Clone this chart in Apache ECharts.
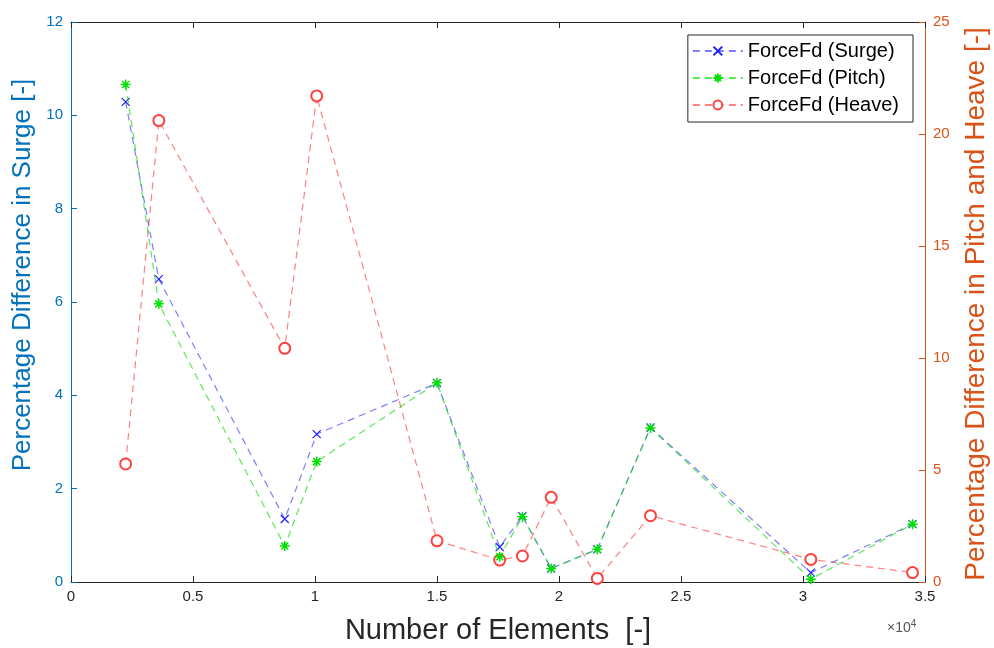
<!DOCTYPE html>
<html>
<head>
<meta charset="utf-8">
<script src="https://cdn.jsdelivr.net/npm/echarts@6/dist/echarts.min.js"></script>
<style>
html, body { margin: 0; padding: 0; background: #fff; }
#main { width: 994px; height: 648px; }
</style>
</head>
<body>
<div id="main"></div>
<script>
// number of elements per mesh
var elements = [2240, 3600, 8760, 10070, 15000, 17570, 18500, 19680, 21570, 23750, 30320, 34490];
// percentage differences
var surge = [10.29, 6.49, 1.35, 3.17, 4.26, 0.75, 1.41, 0.29, 0.70, 3.31, 0.20, 1.24];
var pitch = [10.66, 5.96, 0.77, 2.58, 4.27, 0.54, 1.40, 0.29, 0.70, 3.30, 0.06, 1.24];
var heave = [5.27, 20.6, 10.43, 21.7, 1.84, 0.98, 1.16, 3.78, 0.16, 2.96, 1.01, 0.42];
var seriesNames = ['ForceFd (Surge)', 'ForceFd (Pitch)', 'ForceFd (Heave)'];

var FONT = '"Liberation Sans", Arial, sans-serif';
var BLUE = '#0072BD', ORANGE = '#D95319', DARK = '#262626';

function pairs(ys) {
    return elements.map(function (x, i) { return [x, ys[i]]; });
}

var crossPath = 'path://M0,0L10,10M10,0L0,10';
var starPath = 'path://M5,0L5,10M0,5L10,5M1.5,1.5L8.5,8.5M8.5,1.5L1.5,8.5';

var myChart = echarts.init(document.getElementById('main'));

var option = {
    backgroundColor: '#fff',
    animation: false,
    textStyle: { fontFamily: FONT },
    grid: { left: 71, right: 69, top: 22, bottom: 66, containLabel: false, outerBoundsMode: 'none' },
    legend: {
        orient: 'vertical',
        right: 81,
        top: 35,
        backgroundColor: '#fff',
        borderColor: DARK,
        borderWidth: 1,
        borderRadius: 0,
        padding: [6, 14, 7, 4],
        itemGap: 7,
        itemWidth: 50,
        itemHeight: 11,
        textStyle: { fontSize: 20, color: '#000', fontFamily: FONT },
        data: seriesNames
    },
    xAxis: [{
        type: 'value',
        min: 0, max: 35000, interval: 5000,
        name: 'Number of Elements  [-]',
        nameLocation: 'middle',
        nameGap: 34,
        nameTextStyle: { fontSize: 29, color: DARK },
        axisLine: { onZero: false, lineStyle: { color: DARK } },
        axisTick: { inside: true, length: 6, lineStyle: { color: DARK } },
        axisLabel: { fontSize: 15, color: DARK, margin: 7,
            formatter: function (v) { return String(v / 10000); } },
        splitLine: { show: false }
    }, {
        type: 'value',
        position: 'top',
        min: 0, max: 35000, interval: 5000,
        axisLine: { show: true, onZero: false, lineStyle: { color: DARK } },
        axisTick: { inside: true, length: 6, lineStyle: { color: DARK } },
        axisLabel: { show: false },
        splitLine: { show: false }
    }],
    yAxis: [{
        type: 'value',
        position: 'left',
        min: 0, max: 12, interval: 2,
        name: 'Percentage Difference in Surge [-]',
        nameLocation: 'middle',
        nameGap: 31,
        nameTextStyle: { fontSize: 26, color: BLUE, padding: [0, 0, 0, 54] },
        axisLine: { show: true, onZero: false, lineStyle: { color: BLUE } },
        axisTick: { show: true, inside: true, length: 6, lineStyle: { color: BLUE } },
        axisLabel: { fontSize: 15, color: BLUE, margin: 8 },
        splitLine: { show: false }
    }, {
        type: 'value',
        position: 'right',
        min: 0, max: 25, interval: 5,
        name: 'Percentage Difference in Pitch and Heave [-]',
        nameLocation: 'middle',
        nameGap: 37,
        nameTextStyle: { fontSize: 28, color: ORANGE, padding: [0, 4, 0, 0] },
        axisLine: { show: true, onZero: false, lineStyle: { color: ORANGE } },
        axisTick: { show: true, inside: true, length: 6, lineStyle: { color: ORANGE } },
        axisLabel: { fontSize: 15, color: ORANGE, margin: 8 },
        splitLine: { show: false }
    }],
    graphic: [{
        type: 'text',
        left: 887, top: 619,
        style: {
            text: '×10{s|4}',
            font: '14px ' + FONT,
            fill: '#555',
            rich: { s: { fontSize: 10, verticalAlign: 'top', padding: [0, 0, 8, 0], fill: '#555' } }
        }
    }],
    series: [{
        name: seriesNames[0],
        type: 'line',
        yAxisIndex: 0,
        data: pairs(surge),
        symbol: crossPath,
        symbolSize: 8,
        itemStyle: { color: '#2020ff', borderColor: '#2020ff', borderWidth: 1.2 },
        lineStyle: { color: 'rgba(40,40,255,0.6)', width: 1.2, type: [7, 5] },
        z: 3
    }, {
        name: seriesNames[1],
        type: 'line',
        yAxisIndex: 0,
        data: pairs(pitch),
        symbol: starPath,
        symbolSize: 10,
        itemStyle: { color: '#00e000', borderColor: '#00e000', borderWidth: 1.5 },
        lineStyle: { color: 'rgba(0,220,0,0.65)', width: 1.2, type: [7, 5] },
        z: 4
    }, {
        name: seriesNames[2],
        type: 'line',
        yAxisIndex: 1,
        data: pairs(heave),
        symbol: 'emptyCircle',
        symbolSize: 11,
        itemStyle: { color: '#ff4040', borderColor: '#ff4040', borderWidth: 1.2 },
        lineStyle: { color: 'rgba(255,60,60,0.65)', width: 1.2, type: [7, 5] },
        z: 2
    }]
};

myChart.setOption(option);
</script>
</body>
</html>
